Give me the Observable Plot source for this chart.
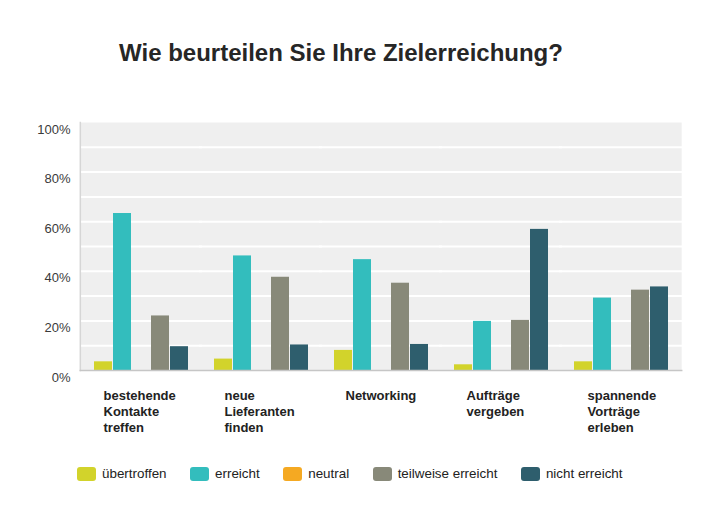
<!DOCTYPE html>
<html>
<head>
<meta charset="utf-8">
<script src="https://cdn.jsdelivr.net/npm/d3@7"></script>
<script src="https://cdn.jsdelivr.net/npm/@observablehq/plot@0.6"></script>
<style>
  body { margin: 0; background: #fff; font-family: "Liberation Sans", Arial, sans-serif; }
  #wrap { position: relative; width: 713px; height: 523px; overflow: hidden; background: #fff; }
  #title { position: absolute; left: 0; top: 39px; width: 682px; text-align: center; font-size: 24px; font-weight: bold; color: #262626; }
  #main { position: absolute; left: 0; top: 0; }
  #labels { position: absolute; left: 0; top: 388px; }
  #legend { position: absolute; left: 77px; top: 457px; }
  .lg-swatch { margin-right: 23.5px !important; }
  .lg-swatch > svg { margin-right: 6px !important; border-radius: 3px; overflow: hidden !important; }
</style>
</head>
<body>
<div id="wrap">
  <div id="title">Wie beurteilen Sie Ihre Zielerreichung?</div>
  <div id="main"></div>
  <div id="labels"></div>
  <div id="legend"></div>
</div>
<script>
const groupKeys = ["bestehende Kontakte treffen", "neue Lieferanten finden", "Networking", "Aufträge vergeben", "spannende Vorträge erleben"];
const groupLabels = ["bestehende\nKontakte\ntreffen", "neue\nLieferanten\nfinden", "Networking", "Aufträge\nvergeben", "spannende\nVorträge\nerleben"];
const series = ["übertroffen", "erreicht", "neutral", "teilweise erreicht", "nicht erreicht"];
const colors = ["#d2d32b", "#33bdbd", "#f5a922", "#888979", "#2e5e6d"];

const uebertroffen = [3.5, 4.6, 8.1, 2.3, 3.5];
const erreicht = [63.3, 46.2, 44.7, 19.8, 29.2];
const neutral = [0, 0, 0, 0, 0];
const teilweise = [22.0, 37.6, 35.2, 20.2, 32.4];
const nichtErreicht = [9.6, 10.3, 10.5, 56.9, 33.7];

const yTicks = [0, 20, 40, 60, 80, 100];
const gridValues = [10, 20, 30, 40, 50, 60, 70, 80, 90];

const seriesValues = [uebertroffen, erreicht, neutral, teilweise, nichtErreicht];
const data = [];
groupKeys.forEach((g, i) => {
  series.forEach((s, j) => data.push({group: g, series: s, value: seriesValues[j][i]}));
});

const font = "'Liberation Sans', Arial, sans-serif";

const main = Plot.plot({
  width: 713,
  height: 392,
  marginTop: 122,
  marginBottom: 22,
  marginLeft: 79,
  marginRight: 32,
  style: {fontFamily: font, fontSize: "13px", color: "#3a3a3a", background: "transparent"},
  fx: {domain: groupKeys, paddingInner: 0.21, paddingOuter: 0.11, axis: null},
  x: {domain: series, paddingInner: 0.07, paddingOuter: 0, axis: null},
  y: {domain: [0, 100], label: null},
  color: {domain: series, range: colors},
  marks: [
    Plot.frame({fill: "#efefef", facet: "super", insetLeft: -13.2, insetRight: -13.2}),
    Plot.ruleY(gridValues, {y: d => d, stroke: "#ffffff", strokeWidth: 2, insetLeft: -14, insetRight: -14}),
    Plot.frame({anchor: "left", stroke: "#d6d6d6", strokeWidth: 1.5, facet: "super", insetLeft: -13.2}),
    Plot.barY(data, {fx: "group", x: "series", y: "value", fill: "series"}),
    Plot.frame({anchor: "bottom", stroke: "#c6c6c6", strokeWidth: 1.5, facet: "super", insetLeft: -13.2, insetRight: -13.2}),
    Plot.axisY({ticks: yTicks, tickFormat: d => d + "%", tickSize: 0, tickPadding: 23, dy: 7, fontSize: 13, label: null})
  ]
});
document.getElementById("main").append(main);

const labels = Plot.plot({
  width: 713,
  height: 56,
  margin: 0,
  style: {fontFamily: font, background: "transparent"},
  x: {type: "point", domain: groupKeys, range: [102, 588], padding: 0, axis: null},
  marks: [
    Plot.text(groupKeys, {x: d => d, text: (d, i) => groupLabels[i], frameAnchor: "top", textAnchor: "start", lineAnchor: "top", fontSize: 13, fontWeight: "bold", lineHeight: 1.23, fill: "#222"})
  ]
});
document.getElementById("labels").append(labels);

const legend = Plot.legend({
  color: {domain: series, range: colors},
  legend: "swatches",
  swatchWidth: 19,
  swatchHeight: 14,
  className: "lg",
  style: {fontFamily: font, fontSize: "13.4px", color: "#222"}
});
document.getElementById("legend").append(legend);
</script>
</body>
</html>
